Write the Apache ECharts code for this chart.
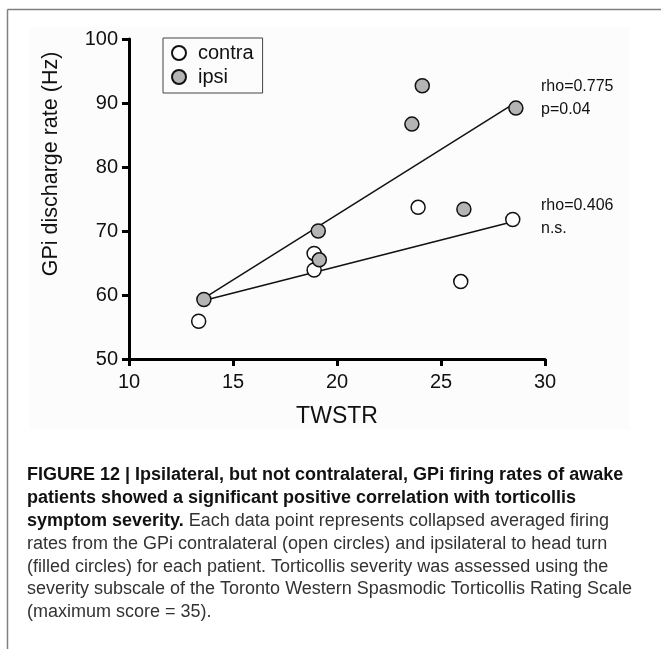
<!DOCTYPE html>
<html>
<head>
<meta charset="utf-8">
<script src="https://cdn.jsdelivr.net/npm/echarts@6/dist/echarts.min.js"></script>
<style>
html,body{margin:0;padding:0;background:#fff;}
#chart{width:661px;height:649px;}
</style>
</head>
<body>
<div id="chart"></div>
<script>
// ---- data ----
var contraPoints = [[13.35, 55.9], [18.9, 66.5], [18.9, 63.9], [23.9, 73.7], [25.95, 62.1], [28.45, 71.8]];
var ipsiPoints = [[13.6, 59.3], [19.1, 70.0], [19.15, 65.5], [23.6, 86.7], [24.1, 92.7], [26.1, 73.4], [28.6, 89.2]];
var ipsiFit = [[13.55, 59.4], [28.45, 89.8]];
var contraFit = [[13.55, 59.1], [28.4, 71.4]];
var xTicks = { min: 10, max: 30, interval: 5 };
var yTicks = { min: 50, max: 100, interval: 10 };
var seriesNames = ['contra', 'ipsi'];
var annotations = [
  { text: 'rho=0.775', x: 541, y: 87 },
  { text: 'p=0.04', x: 541, y: 110 },
  { text: 'rho=0.406', x: 541, y: 206 },
  { text: 'n.s.', x: 541, y: 229 }
];
var xTitle = 'TWSTR';
var yTitle = 'GPi discharge rate (Hz)';
var captionLines = [
  '{b|FIGURE 12 | Ipsilateral, but not contralateral, GPi firing rates of awake}',
  '{b|patients showed a significant positive correlation with torticollis}',
  '{b|symptom severity.}{r| Each data point represents collapsed averaged firing}',
  '{r|rates from the GPi contralateral (open circles) and ipsilateral to head turn}',
  '{r|(filled circles) for each patient. Torticollis severity was assessed using the}',
  '{r|severity subscale of the Toronto Western Spasmodic Torticollis Rating Scale}',
  '{r|(maximum score = 35).}'
];

var FONT = 'Liberation Sans, Arial, Helvetica, sans-serif';
var CAPFONT = '"Liberation Sans Narrow", "Liberation Sans", Arial, sans-serif';

var chart = echarts.init(document.getElementById('chart'), null, { renderer: 'canvas' });

var graphics = [
  { type: 'rect', shape: { x: 30, y: 27, width: 600, height: 403 }, style: { fill: '#fcfcfc' }, z: -10, silent: true },
  { type: 'line', shape: { x1: 7.5, y1: 9.5, x2: 661, y2: 9.5 }, style: { stroke: '#808080', lineWidth: 1.5 } },
  { type: 'line', shape: { x1: 7.5, y1: 9.5, x2: 7.5, y2: 649 }, style: { stroke: '#808080', lineWidth: 1.5 } },
  { type: 'text', x: 51, y: 164, rotation: Math.PI / 2,
    style: { text: yTitle, font: '21.5px ' + FONT, fill: '#111', textAlign: 'center', textVerticalAlign: 'middle' } }
];
annotations.forEach(function (a) {
  graphics.push({ type: 'text', x: a.x, y: a.y,
    style: { text: a.text, font: '16px ' + FONT, fill: '#111', textAlign: 'left', textVerticalAlign: 'middle' } });
});
captionLines.forEach(function (line, i) {
  graphics.push({ type: 'text', x: 27, y: 475 + i * 22.9,
    style: {
      text: line, textAlign: 'left', textVerticalAlign: 'middle',
      rich: {
        b: { fontFamily: CAPFONT, fontWeight: 'bold', fontSize: 18, fill: '#111' },
        r: { fontFamily: CAPFONT, fontWeight: 'normal', fontSize: 18, fill: '#333' }
      }
    } });
});

var option = {
  animation: false,
  backgroundColor: '#ffffff',
  textStyle: { fontFamily: FONT },
  grid: { left: 129, top: 39, right: 116, bottom: 290, containLabel: false },
  legend: {
    data: seriesNames,
    orient: 'vertical', left: 163, top: 38,
    padding: [5, 9, 6, 8],
    borderColor: '#444', borderWidth: 1,
    itemWidth: 14, itemHeight: 14, itemGap: 4,
    textStyle: { fontSize: 20, lineHeight: 20, color: '#111', fontFamily: FONT, padding: [0, 0, 0, 7] }
  },
  xAxis: {
    type: 'value', min: xTicks.min, max: xTicks.max, interval: xTicks.interval,
    name: xTitle, nameLocation: 'middle', nameGap: 46,
    nameTextStyle: { fontSize: 23, color: '#111', fontFamily: FONT },
    axisLine: { show: true, onZero: false, lineStyle: { color: '#000', width: 3 } },
    axisTick: { show: true, length: 7, lineStyle: { color: '#000', width: 3 } },
    axisLabel: { fontSize: 20, color: '#111', margin: 13 },
    splitLine: { show: false }
  },
  yAxis: {
    type: 'value', min: yTicks.min, max: yTicks.max, interval: yTicks.interval,
    axisLine: { show: true, onZero: false, lineStyle: { color: '#000', width: 3 } },
    axisTick: { show: true, length: 7, lineStyle: { color: '#000', width: 3 } },
    axisLabel: { fontSize: 20, color: '#111', margin: 11 },
    splitLine: { show: false }
  },
  series: [
    { name: 'ipsi fit', type: 'line', data: ipsiFit, showSymbol: false, symbol: 'none', z: 1,
      lineStyle: { color: '#111', width: 1.5 }, silent: true },
    { name: 'contra fit', type: 'line', data: contraFit, showSymbol: false, symbol: 'none', z: 1,
      lineStyle: { color: '#111', width: 1.5 }, silent: true },
    { name: 'contra', type: 'scatter', data: contraPoints, symbol: 'circle', symbolSize: 14, z: 3,
      itemStyle: { color: '#ffffff', borderColor: '#111', borderWidth: 1.5, opacity: 1 } },
    { name: 'ipsi', type: 'scatter', data: ipsiPoints, symbol: 'circle', symbolSize: 14, z: 4,
      itemStyle: { color: '#b4b4b4', borderColor: '#111', borderWidth: 1.5, opacity: 1 } }
  ],
  graphic: graphics
};
chart.setOption(option);
</script>
</body>
</html>
